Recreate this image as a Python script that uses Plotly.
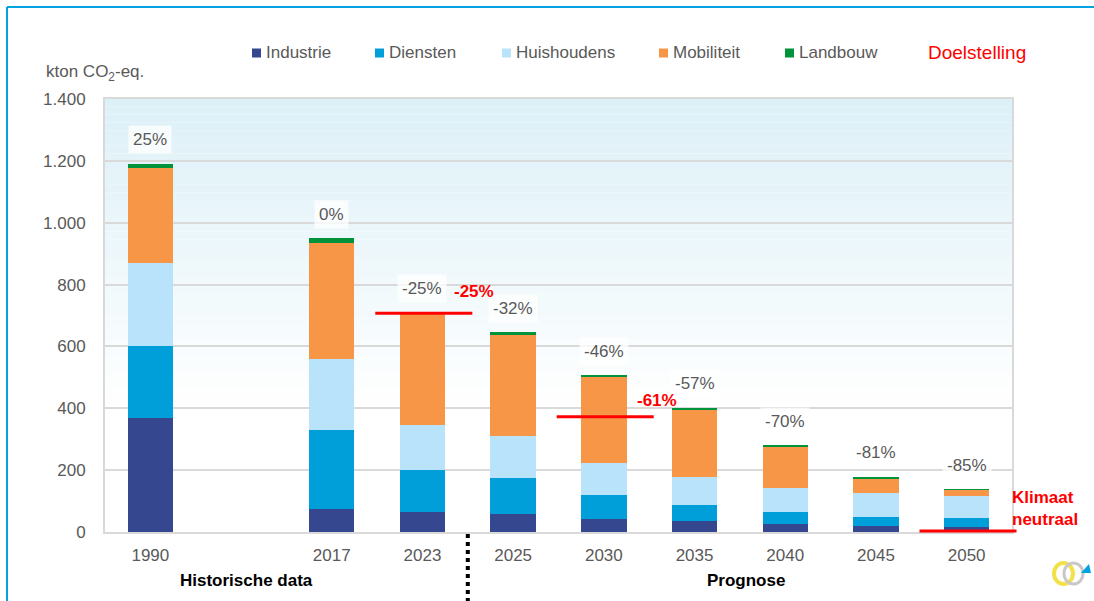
import plotly.graph_objects as go

# ---------------- data ----------------
categories = ["1990", " ", "2017", "2023", "2025", "2030", "2035", "2040", "2045", "2050"]
years = ["1990", "2017", "2023", "2025", "2030", "2035", "2040", "2045", "2050"]

industrie = [367, 74, 65, 58, 43, 37, 26, 19, 16]
diensten = [234, 256, 135, 116, 77, 51, 39, 29, 28]
huishoudens = [269, 228, 146, 136, 104, 89, 78, 77, 71]
mobiliteit = [308, 377, 360, 330, 276, 217, 133, 49, 21]
landbouw = [13, 15, 4, 6, 7, 7, 5, 5, 3]

pct_labels = ["25%", "0%", "-25%", "-32%", "-46%", "-57%", "-70%", "-81%", "-85%"]

target_years = ["2023", "2030", "2050"]
target_values = [707, 373, 3]
target_labels = ["-25%", "-61%", "Klimaat<br>neutraal"]

series_names = ["Industrie", "Diensten", "Huishoudens", "Mobiliteit", "Landbouw"]
series_values = [industrie, diensten, huishoudens, mobiliteit, landbouw]
series_colors = ["#35478F", "#009FD9", "#B8E3FB", "#F79646", "#00933B"]

y_ticks = [0, 200, 400, 600, 800, 1000, 1200, 1400]
y_range = [0, 1400]

# ---------------- layout geometry ----------------
W, H = 1094, 601
L, R, T, B = 105, 82, 99, 69
PW, PH = W - L - R, H - T - B

def px(xpix):
    return (xpix - L) / PW

def py(ypix):
    return (H - B - ypix) / PH

FONT = "Liberation Sans, Arial, sans-serif"
GREY = "#595959"
RED = "#FF0000"
NCAT = len(categories)

fig = go.Figure()
for name, vals, col in zip(series_names, series_values, series_colors):
    fig.add_trace(go.Bar(x=years, y=vals, name=name, marker=dict(color=col, line=dict(width=0)),
                         showlegend=False))

totals = [sum(v) for v in zip(*series_values)]

annotations = []
shapes = []

# gradient plot background
n = 40
top_c = (220, 240, 247)
end = 0.28
for i in range(n):
    y1 = 1 - i * (1 - end) / n
    y0 = 1 - (i + 1) * (1 - end) / n
    t = (i + 0.5) / n
    c = tuple(int(round(a + (255 - a) * t)) for a in top_c)
    shapes.append(dict(type="rect", xref="paper", yref="paper", x0=0, x1=1, y0=y0, y1=y1,
                       fillcolor="rgb(%d,%d,%d)" % c, line=dict(width=0), layer="below"))

# percentage labels above bars
for yr, tot, lab in zip(years, totals, pct_labels):
    annotations.append(dict(x=categories.index(yr), y=tot, xref="x", yref="y", text=lab, showarrow=False,
                            xanchor="center", yanchor="middle",
                            yshift=24, font=dict(family=FONT, size=17, color=GREY),
                            bgcolor="rgba(255,255,255,0.75)", borderpad=4))

# target lines (domain fractions so they are not clipped at the plot edge)
for yr, val in zip(target_years, target_values):
    idx = categories.index(yr)
    yf = (val - y_range[0]) / (y_range[1] - y_range[0])
    shapes.append(dict(type="line", xref="x domain", yref="y domain",
                       x0=(idx + 0.5 - 0.52) / NCAT, x1=(idx + 0.5 + 0.55) / NCAT,
                       y0=yf, y1=yf, line=dict(color=RED, width=3), layer="above"))

target_shift = [(52, 22), (53, 16), (43, 23)]
for yr, val, lab, (dx, dy) in zip(target_years, target_values, target_labels, target_shift):
    anchor = "left" if "<br>" in lab else "center"
    annotations.append(dict(x=categories.index(yr), y=val, xref="x", yref="y", text="<b>%s</b>" % lab,
                            showarrow=False, xshift=dx, yshift=dy, xanchor=anchor, yanchor="middle",
                            align="left", font=dict(family=FONT, size=17, color=RED)))

# dotted separator between history and forecast
sep = (categories.index("2023") + categories.index("2025")) / 2
shapes.append(dict(type="line", xref="x", yref="paper", x0=sep, x1=sep, y0=py(534), y1=py(601),
                   line=dict(color="black", width=4, dash="dot")))

# section labels
annotations.append(dict(xref="paper", yref="paper", x=px(246), y=py(580), text="<b>Historische data</b>",
                        xanchor="center", yanchor="middle",
                        showarrow=False, font=dict(family=FONT, size=17, color="black")))
annotations.append(dict(xref="paper", yref="paper", x=px(746), y=py(580), text="<b>Prognose</b>",
                        xanchor="center", yanchor="middle",
                        showarrow=False, font=dict(family=FONT, size=17, color="black")))

# y axis unit
annotations.append(dict(xref="paper", yref="paper", x=px(44), y=py(73), xanchor="left", yanchor="middle",
                        text="kton CO<sub>2</sub>-eq.", showarrow=False,
                        font=dict(family=FONT, size=17, color=GREY)))

# custom legend
legend_marker_x = [252, 375, 502, 659, 785]
legend_y = 53
for name, col, mx in zip(series_names, series_colors, legend_marker_x):
    shapes.append(dict(type="rect", xref="paper", yref="paper", x0=px(mx), x1=px(mx + 9),
                       y0=py(legend_y + 4.5), y1=py(legend_y - 4.5), fillcolor=col, line=dict(width=0)))
    annotations.append(dict(xref="paper", yref="paper", x=px(mx + 12), y=py(legend_y), xanchor="left",
                            yanchor="middle", text=name, showarrow=False,
                            font=dict(family=FONT, size=17, color=GREY)))
annotations.append(dict(xref="paper", yref="paper", x=px(926), y=py(legend_y), xanchor="left", yanchor="middle",
                        text="Doelstelling", showarrow=False, font=dict(family=FONT, size=19, color=RED)))

# outer frame
shapes.append(dict(type="line", xref="paper", yref="paper", x0=px(7), x1=px(1100), y0=py(7), y1=py(7),
                   line=dict(color="#00A3E0", width=2)))
shapes.append(dict(type="line", xref="paper", yref="paper", x0=px(7), x1=px(7), y0=py(7), y1=py(610),
                   line=dict(color="#00A3E0", width=2)))

# small logo approximation
shapes.append(dict(type="circle", xref="paper", yref="paper", x0=px(1054), x1=px(1073), y0=py(584), y1=py(563),
                   line=dict(color="#F2E14A", width=4)))
shapes.append(dict(type="circle", xref="paper", yref="paper", x0=px(1064), x1=px(1083), y0=py(584), y1=py(563),
                   line=dict(color="#C8C8C8", width=3)))
shapes.append(dict(type="path", xref="paper", yref="paper",
                   path="M %f %f L %f %f L %f %f Z" % (px(1081), py(573), px(1091), py(573), px(1089), py(564)),
                   fillcolor="#00A3E0", line=dict(width=0)))

fig.update_layout(
    width=W, height=H, autosize=False,
    margin=dict(l=L, r=R, t=T, b=B),
    barmode="stack", bargap=0.5,
    paper_bgcolor="white", plot_bgcolor="white",
    separators=",.",
    font=dict(family=FONT, size=17, color=GREY),
    shapes=shapes, annotations=annotations,
    showlegend=False,
    xaxis=dict(type="category", categoryorder="array", categoryarray=categories,
               range=[-0.5, NCAT - 0.5], showgrid=False,
               showline=True, linecolor="#D9D9D9", linewidth=2, mirror=True,
               ticks="", ticklabelstandoff=7,
               tickfont=dict(family=FONT, size=17, color=GREY)),
    yaxis=dict(range=y_range, tickvals=y_ticks, separatethousands=True,
               showgrid=True, gridcolor="#D9D9D9", gridwidth=2,
               showline=True, linecolor="#D9D9D9", linewidth=2, mirror=True,
               zeroline=False, ticks="", ticklabelstandoff=14,
               tickfont=dict(family=FONT, size=17, color=GREY)),
)

fig.write_html("out.html", config={"displayModeBar": False},
               post_script="document.body.style.margin='0';document.body.style.overflow='hidden';")
